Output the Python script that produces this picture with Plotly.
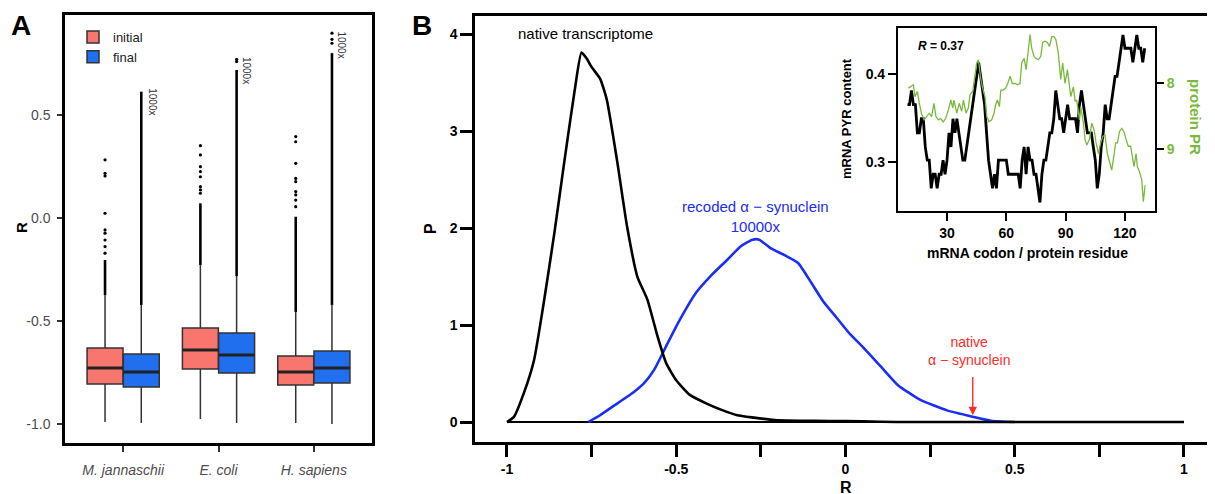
import plotly.graph_objects as go

# ---------------- panel A data (box stats) ----------------
species = ["M. jannaschii", "E. coli", "H. sapiens"]

init_lo = [-0.990, -0.976, -0.995]
init_q1 = [-0.806, -0.733, -0.811]
init_med = [-0.728, -0.641, -0.748]
init_q3 = [-0.631, -0.534, -0.670]
init_hi = [-0.374, -0.228, -0.456]
init_dense_top = [-0.204, 0.071, 0.006]
init_out = [
    [-0.171, -0.139, -0.107, -0.074, -0.058, 0.023, 0.204, 0.217, 0.282],
    [0.120, 0.136, 0.152, 0.200, 0.225, 0.249, 0.306, 0.351],
    [0.055, 0.087, 0.112, 0.128, 0.176, 0.192, 0.265, 0.370, 0.395],
]

final_lo = [-0.995, -0.995, -1.0]
final_q1 = [-0.820, -0.752, -0.801]
final_med = [-0.748, -0.665, -0.728]
final_q3 = [-0.660, -0.558, -0.646]
final_hi = [-0.422, -0.282, -0.422]
final_dense_top = [0.613, 0.718, 0.800]
final_out = [[], [0.759, 0.770], [0.848, 0.867, 0.897]]

# ---------------- panel B data ----------------
native_r = [-1.0, -0.98, -0.95, -0.92, -0.89, -0.86, -0.83, -0.80, -0.78, -0.765, -0.75,
            -0.725, -0.705, -0.675, -0.645, -0.615, -0.585, -0.555, -0.53, -0.50, -0.46,
            -0.41, -0.37, -0.32, -0.27, -0.21, -0.13, -0.05, 0.05, 0.15, 1.0]
native_p = [0.0, 0.05, 0.30, 0.64, 1.26, 1.95, 2.70, 3.42, 3.81, 3.75, 3.66,
            3.54, 3.32, 2.70, 2.01, 1.50, 1.26, 0.88, 0.61, 0.43, 0.28,
            0.19, 0.13, 0.07, 0.045, 0.02, 0.013, 0.01, 0.008, 0.0, 0.0]

recoded_r = [-0.76, -0.725, -0.675, -0.625, -0.595, -0.565, -0.53, -0.49, -0.44,
             -0.40, -0.35, -0.31, -0.275, -0.255, -0.22, -0.18, -0.14, -0.10, -0.065,
             -0.025, 0.015, 0.055, 0.105, 0.155, 0.22, 0.30, 0.375, 0.43, 0.50]
recoded_p = [0.0, 0.07, 0.19, 0.31, 0.40, 0.54, 0.78, 1.05, 1.34,
             1.50, 1.67, 1.81, 1.88, 1.88, 1.79, 1.72, 1.64, 1.43, 1.24,
             1.07, 0.90, 0.76, 0.57, 0.38, 0.23, 0.12, 0.055, 0.013, 0.0]

native_syn_r = 0.376

# ---------------- inset data ----------------
codon = list(range(10, 131))
pyr = [0.365, 0.365, 0.381, 0.365, 0.365, 0.333, 0.333, 0.349, 0.349, 0.317,
       0.302, 0.302, 0.270, 0.286, 0.286, 0.270, 0.286, 0.286, 0.302, 0.286,
       0.302, 0.333, 0.317, 0.349, 0.333, 0.349, 0.333, 0.317, 0.302, 0.302,
       0.317, 0.333, 0.349, 0.365, 0.381, 0.397, 0.413, 0.397, 0.381, 0.365,
       0.333, 0.302, 0.286, 0.270, 0.286, 0.270, 0.302, 0.302, 0.302, 0.302,
       0.302, 0.286, 0.286, 0.286, 0.286, 0.286, 0.286, 0.270, 0.302, 0.317,
       0.286, 0.317, 0.302, 0.302, 0.286, 0.286, 0.270, 0.254, 0.286, 0.302,
       0.302, 0.317, 0.333, 0.333, 0.349, 0.381, 0.365, 0.349, 0.349, 0.333,
       0.349, 0.365, 0.349, 0.349, 0.349, 0.349, 0.333, 0.365, 0.381, 0.365,
       0.349, 0.333, 0.333, 0.333, 0.317, 0.302, 0.270, 0.286, 0.317, 0.333,
       0.365, 0.349, 0.349, 0.365, 0.381, 0.397, 0.397, 0.413, 0.429, 0.444,
       0.429, 0.429, 0.429, 0.429, 0.413, 0.429, 0.444, 0.429, 0.429, 0.413,
       0.429]

pr_x = [10.4, 11.6, 13.0, 13.8, 15.0, 16.0, 17.2, 18.4, 19.7, 21.0, 22.2, 23.4, 24.4,
        25.6, 26.8, 28.1, 29.3, 30.7, 31.9, 32.9, 33.5, 34.9, 36.2, 37.4, 38.3, 39.6,
        40.8, 41.6, 43.0, 43.8, 45.0, 45.9, 47.0, 48.0, 49.2, 50.1, 51.2, 52.6, 53.8,
        54.6, 55.5, 56.5, 57.2, 58.5, 59.7, 60.7, 61.9, 63.0, 64.4, 65.6, 66.9, 67.8,
        69.0, 70.0, 70.8, 72.0, 72.8, 74.0, 75.0, 76.2, 77.4, 78.4, 79.6, 80.8, 81.8,
        83.0, 84.1, 85.1, 86.3, 87.5, 88.5, 89.7, 90.9, 91.9, 92.6, 93.9, 94.8, 95.6,
        97.0, 97.6, 99.0, 99.8, 100.7, 102.0, 103.2, 104.4, 105.4, 106.6, 107.7, 108.8,
        109.9, 111.1, 112.1, 113.3, 114.1, 115.3, 116.2, 117.2, 118.4, 119.5, 120.6,
        121.7, 122.9, 123.9, 124.6, 125.6, 126.3, 127.3, 128.5, 129.3, 130.2]
pr_y = [8.08, 8.06, 8.03, 8.21, 8.13, 8.31, 8.48, 8.56, 8.51, 8.46, 8.51, 8.31, 8.51,
        8.56, 8.54, 8.59, 8.54, 8.41, 8.26, 8.38, 8.26, 8.46, 8.31, 8.43, 8.26, 8.46,
        8.38, 8.18, 8.13, 7.95, 7.70, 7.65, 7.93, 8.08, 8.21, 8.51, 8.59, 8.56, 8.46,
        8.33, 8.26, 8.36, 8.11, 8.11, 8.08, 8.01, 7.90, 8.01, 8.01, 8.03, 8.01, 7.70,
        7.63, 7.80, 7.55, 7.27, 7.47, 7.60, 7.63, 7.65, 7.60, 7.39, 7.37, 7.39, 7.45,
        7.30, 7.30, 7.35, 7.55, 7.95, 7.70, 8.01, 7.80, 8.11, 8.21, 8.06, 8.28, 8.26,
        8.56, 8.36, 8.61, 8.86, 8.94, 8.86, 8.61, 8.71, 8.91, 9.07, 8.91, 8.81,
        8.79, 9.07, 9.17, 9.32, 9.17, 8.91, 8.91, 8.74, 8.69, 8.74, 8.86,
        8.96, 8.96, 9.19, 9.27, 9.07, 9.27, 9.34, 9.47, 9.80, 9.55]

# ---------------- styling ----------------
FONT = "Liberation Sans"
COL_INIT = "#F8766D"
COL_FINAL = "#1F6FEF"
COL_BLUE = "#1A2EF5"
COL_RED = "#FF2A2A"
COL_GREEN = "#78BB3C"
BOX_W = 0.377
OFF = 0.19

fig = go.Figure()

pos_init = [i - OFF for i in range(len(species))]
pos_final = [i + OFF for i in range(len(species))]


def add_group(pos, lo, q1, med, q3, hi, dense_top, outs, color, name):
    fig.add_trace(go.Box(
        x=pos, q1=q1, median=med, q3=q3, lowerfence=lo, upperfence=hi,
        width=BOX_W, fillcolor=color, line=dict(color="#333333", width=1.5),
        whiskerwidth=0, boxpoints=False, name=name, orientation="v",
        xaxis="x", yaxis="y", hoverinfo="skip"))
    # thicker median bar
    mx, my = [], []
    for p, m in zip(pos, med):
        mx += [p - BOX_W / 2, p + BOX_W / 2, None]
        my += [m, m, None]
    fig.add_trace(go.Scatter(x=mx, y=my, mode="lines", line=dict(color="#222222", width=3),
                             showlegend=False, xaxis="x", yaxis="y", hoverinfo="skip"))
    # dense outlier columns
    dx, dy = [], []
    for p, h, t in zip(pos, hi, dense_top):
        dx += [p, p, None]
        dy += [h, t, None]
    fig.add_trace(go.Scatter(x=dx, y=dy, mode="lines", line=dict(color="black", width=2.6),
                             showlegend=False, xaxis="x", yaxis="y", hoverinfo="skip"))
    # sparse outliers
    ox, oy = [], []
    for p, pts in zip(pos, outs):
        ox += [p] * len(pts)
        oy += pts
    fig.add_trace(go.Scatter(x=ox, y=oy, mode="markers", marker=dict(color="black", size=3.2),
                             showlegend=False, xaxis="x", yaxis="y", hoverinfo="skip"))


add_group(pos_init, init_lo, init_q1, init_med, init_q3, init_hi, init_dense_top, init_out,
          COL_INIT, "initial")
add_group(pos_final, final_lo, final_q1, final_med, final_q3, final_hi, final_dense_top, final_out,
          COL_FINAL, "final")

# panel B curves: zero baseline, recoded, native
fig.add_trace(go.Scatter(x=[native_r[0], native_r[-1]], y=[0, 0], mode="lines",
                         line=dict(color="black", width=2.2),
                         showlegend=False, xaxis="x2", yaxis="y2", hoverinfo="skip"))
fig.add_trace(go.Scatter(x=recoded_r, y=recoded_p, mode="lines",
                         line=dict(color=COL_BLUE, width=2.6, shape="spline", smoothing=0.5),
                         showlegend=False, xaxis="x2", yaxis="y2", hoverinfo="skip"))
fig.add_trace(go.Scatter(x=native_r, y=native_p, mode="lines",
                         line=dict(color="black", width=2.6, shape="spline", smoothing=0.5),
                         showlegend=False, xaxis="x2", yaxis="y2", hoverinfo="skip"))

# inset
fig.add_trace(go.Scatter(x=pr_x, y=pr_y, mode="lines", line=dict(color=COL_GREEN, width=1.3),
                         showlegend=False, xaxis="x3", yaxis="y4", hoverinfo="skip"))
fig.add_trace(go.Scatter(x=codon, y=pyr, mode="lines", line=dict(color="black", width=2.8),
                         showlegend=False, xaxis="x3", yaxis="y3", hoverinfo="skip"))

W, H = 1215, 494
SHIFT = 8  # page body margin offsets the plot by 8 px


def px(v):
    return (v - SHIFT) / W


def py(v):
    return 1 - (v - SHIFT) / H


tick_a = dict(size=14, color="#4d4d4d", family=FONT)
tick_b = dict(size=14, color="black", family=FONT, weight="bold")

fig.update_layout(
    width=W, height=H, margin=dict(l=0, r=0, t=0, b=0),
    paper_bgcolor="white", plot_bgcolor="white",
    font=dict(family=FONT, color="black"),
    showlegend=True,
    legend=dict(x=px(73), y=py(22), xanchor="left", yanchor="top",
                bgcolor="white", bordercolor="#d0d0d0", borderwidth=0,
                font=dict(size=13, color="#222222", family=FONT), tracegroupgap=2),
    xaxis=dict(domain=[px(65), px(372)], range=[-0.61, 2.61], anchor="y",
               tickvals=[0, 1, 2], ticktext=["<i>" + s + "</i>" for s in species],
               tickfont=tick_a, ticks="outside", ticklen=6, tickwidth=1.5, tickcolor="#333",
               ticklabelstandoff=6,
               showline=True, linecolor="black", linewidth=2.5, mirror=True,
               showgrid=False, zeroline=False),
    yaxis=dict(domain=[py(443), py(15)], range=[-1.092, 0.985], anchor="x",
               tickvals=[-1.0, -0.5, 0.0, 0.5], ticktext=["-1.0", "-0.5", "0.0", "0.5"],
               tickfont=tick_a, ticks="outside", ticklen=5, tickwidth=1.5, tickcolor="#333",
               ticklabelstandoff=4,
               showline=True, linecolor="black", linewidth=2.5, mirror=True,
               showgrid=False, zeroline=False),
    xaxis2=dict(domain=[px(475), 1.0], range=[-1.0945, 1.0916 + SHIFT / 338.5], anchor="y2",
                tickvals=[-1, -0.75, -0.5, -0.25, 0, 0.25, 0.5, 0.75, 1],
                ticktext=["-1", "", "-0.5", "", "0", "", "0.5", "", "1"],
                tickfont=tick_b, ticks="outside", ticklen=12, tickwidth=2.5, tickcolor="black",
                showline=True, linecolor="black", linewidth=2.5, mirror=True,
                showgrid=False, zeroline=False),
    yaxis2=dict(domain=[py(442), py(16)], range=[-0.206, 4.186], anchor="x2",
                tickvals=[0, 1, 2, 3, 4], ticktext=["0", "1", "2", "3", "4"],
                tickfont=tick_b, ticks="outside", ticklen=12, tickwidth=2.5, tickcolor="black",
                showline=True, linecolor="black", linewidth=2.5, mirror=False,
                showgrid=False, zeroline=False),
    xaxis3=dict(domain=[px(898), px(1155)], range=[5.2, 135.2], anchor="y3",
                tickvals=[30, 60, 90, 120], ticktext=["30", "60", "90", "120"],
                tickfont=tick_b, ticks="outside", ticklen=8, tickwidth=2, tickcolor="black",
                showline=True, linecolor="black", linewidth=2.2, mirror=True,
                showgrid=False, zeroline=False),
    yaxis3=dict(domain=[py(211), py(28)], range=[0.2443, 0.452], anchor="x3",
                tickvals=[0.3, 0.4], ticktext=["0.3", "0.4"],
                tickfont=tick_b, ticks="outside", ticklen=8, tickwidth=2, tickcolor="black",
                showline=True, linecolor="black", linewidth=2.2, mirror=True,
                showgrid=False, zeroline=False),
    yaxis4=dict(overlaying="y3", side="right", anchor="x3", range=[9.94, 7.17],
                tickvals=[8, 9], ticktext=["8", "9"],
                tickfont=dict(size=14, color=COL_GREEN, family=FONT, weight="bold"),
                ticks="outside", ticklen=8, tickwidth=2, tickcolor="black",
                showline=False, showgrid=False, zeroline=False),
)

ann = []


def label(text, x, y, size, color="black", xref="paper", yref="paper", angle=0, **kw):
    kw.setdefault("xanchor", "center")
    kw.setdefault("yanchor", "middle")
    ann.append(dict(text=text, x=x, y=y, xref=xref, yref=yref, showarrow=False,
                    textangle=angle, font=dict(size=size, color=color, family=FONT), **kw))


# panel letters (top-anchored at the paper edge so they are not clipped)
label("<b>A</b>", px(21), 1.0, 28, yanchor="top")
label("<b>B</b>", px(422), 1.0, 28, yanchor="top")

# panel A
label("<b>R</b>", px(21), py(228), 15, angle=-90)
for xx, yy in [(0.30, 0.563), (1.30, 0.718), (2.29, 0.84)]:
    label("1000x", xx, yy, 10, color="#333333", xref="x", yref="y", angle=90)

# panel B
label("<b>P</b>", px(430), py(229), 16, angle=-90)
label("<b>R</b>", px(846), py(477), 16, yanchor="top")
label("native transcriptome", -0.769, 4.01, 15, xref="x2", yref="y2")
label("recoded α − synuclein<br>10000x", -0.266, 2.12, 15, color=COL_BLUE, xref="x2", yref="y2")
label("native<br>α − synuclein", native_syn_r - 0.01, 0.73, 14, color=COL_RED, xref="x2", yref="y2")
ann.append(dict(x=native_syn_r, y=0.07, ax=native_syn_r, ay=0.48, xref="x2", yref="y2",
                axref="x2", ayref="y2", text="", showarrow=True, arrowhead=2,
                arrowsize=1.2, arrowwidth=1.4, arrowcolor=COL_RED))

# inset
label("<b><i>R</i> = 0.37</b>", px(941), py(46), 12)
label("<b>mRNA PYR content</b>", px(846), py(118), 13, angle=-90)
label("<b>mRNA codon / protein residue</b>", px(1027), py(253), 14)
label("<b>protein PR</b>", px(1196), py(117), 15, color=COL_GREEN, angle=90)

fig.update_layout(annotations=ann)

fig.write_html("out.html")
